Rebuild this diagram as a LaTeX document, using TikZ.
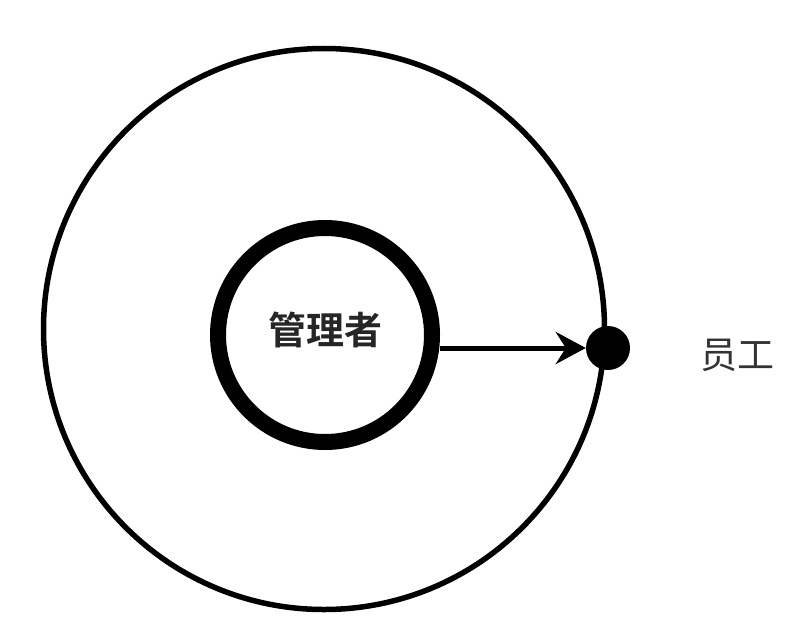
\documentclass[tikz,border=0pt]{standalone}
\usepackage{fontspec}
\newfontfamily\cjkb[BoldFont={Noto Sans CJK SC Bold}]{Noto Sans CJK SC}
\newfontfamily\cjkr{Noto Sans CJK SC}
\usetikzlibrary{arrows.meta}
\begin{document}
\begin{tikzpicture}[x=1pt,y=-1pt,
  ring/.style={circle,draw=black,inner sep=0pt},
  lbl/.style={inner sep=0pt},
  conn/.style={line width=5pt,-{Stealth[length=30pt,width=32pt,inset=10pt]}}]
\useasboundingbox (0,0) rectangle (810,642);
\fill[white] (0,0) rectangle (810,642);
\node[ring,line width=5.5pt,minimum size=561pt] (outer) at (324,329) {};
\node[ring,line width=16pt,minimum size=214pt] (inner) at (325,335) {};
\node[lbl,font=\cjkb\bfseries\fontsize{38}{40}\selectfont,text=black!85] (mgr) at (325,330) {管理者};
\node[circle,fill=black,inner sep=0pt,minimum size=44pt] (dot) at (608,348) {};
\node[lbl,font=\cjkr\fontsize{37}{40}\selectfont,text=black!80] (emp) at (737,355) {员工};
\coordinate (start) at (440,348);
\draw[conn] (start) -- (dot.west);
\end{tikzpicture}
\end{document}
